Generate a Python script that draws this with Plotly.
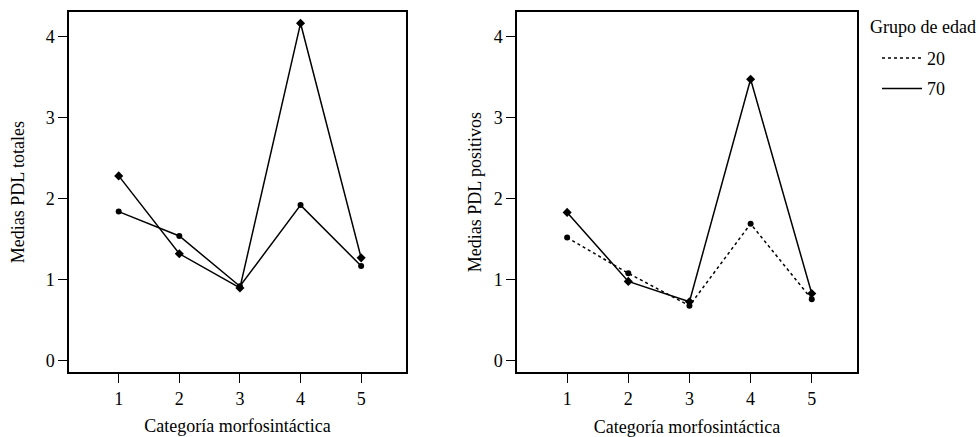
import plotly.graph_objects as go

categories = [1, 2, 3, 4, 5]
tick_labels = ["1", "2", "3", "4", "5"]
y_ticks = [0, 1, 2, 3, 4]

totales_20 = [1.84, 1.54, 0.92, 1.92, 1.17]
totales_70 = [2.28, 1.32, 0.90, 4.16, 1.27]
positivos_20 = [1.52, 1.08, 0.68, 1.69, 0.76]
positivos_70 = [1.83, 0.98, 0.73, 3.47, 0.83]

group_names = ["20", "70"]
legend_title = "Grupo de edad"

FONT = "Liberation Serif"
W, H = 980, 437

fig = go.Figure()

# left panel
fig.add_trace(go.Scatter(x=categories, y=totales_20, mode="lines+markers",
                         line=dict(color="black", width=1.5),
                         marker=dict(symbol="circle", size=6, color="black"),
                         showlegend=False, xaxis="x", yaxis="y"))
fig.add_trace(go.Scatter(x=categories, y=totales_70, mode="lines+markers",
                         line=dict(color="black", width=1.5),
                         marker=dict(symbol="diamond", size=7, color="black"),
                         showlegend=False, xaxis="x", yaxis="y"))
# right panel
fig.add_trace(go.Scatter(x=categories, y=positivos_20, mode="lines+markers",
                         line=dict(color="black", width=1.5, dash="dot"),
                         marker=dict(symbol="circle", size=6, color="black"),
                         showlegend=False, xaxis="x2", yaxis="y2"))
fig.add_trace(go.Scatter(x=categories, y=positivos_70, mode="lines+markers",
                         line=dict(color="black", width=1.5),
                         marker=dict(symbol="diamond", size=7, color="black"),
                         showlegend=False, xaxis="x2", yaxis="y2"))
# legend entries
fig.add_trace(go.Scatter(x=[None], y=[None], mode="lines", name=group_names[0],
                         line=dict(color="black", width=1.5, dash="dot"),
                         legendgroup="a", xaxis="x2", yaxis="y2"))
fig.add_trace(go.Scatter(x=[None], y=[None], mode="lines", name=group_names[1],
                         line=dict(color="black", width=1.5),
                         legendgroup="b", xaxis="x2", yaxis="y2"))

xcommon = dict(range=[0.18, 5.74], tickvals=categories, ticktext=tick_labels,
               ticks="outside", ticklen=9, tickwidth=1.2, tickcolor="black",
               showline=True, linecolor="black", linewidth=1.5, mirror=True,
               showgrid=False, zeroline=False,
               tickfont=dict(family=FONT, size=18, color="black"))
ycommon = dict(range=[-0.14, 4.3], tickvals=y_ticks,
               ticks="outside", ticklen=9, tickwidth=1.2, tickcolor="black",
               showline=True, linecolor="black", linewidth=1.5, mirror=True,
               showgrid=False, zeroline=False,
               tickfont=dict(family=FONT, size=18, color="black"))

fig.update_layout(
    width=W, height=H,
    margin=dict(l=0, r=0, t=0, b=0),
    paper_bgcolor="white", plot_bgcolor="white",
    font=dict(family=FONT, color="black"),
    xaxis=dict(xcommon, domain=[69 / W, 406 / W], anchor="y",
               title=dict(text="Categoría morfosintáctica", standoff=12,
                          font=dict(family=FONT, size=18))),
    yaxis=dict(ycommon, domain=[1 - 374 / H, 1 - 12 / H], anchor="x",
               title=dict(text="Medias PDL totales", standoff=16,
                          font=dict(family=FONT, size=18))),
    xaxis2=dict(xcommon, domain=[517 / W, 857 / W], anchor="y2",
                title=dict(text="Categoría morfosintáctica", standoff=16,
                           font=dict(family=FONT, size=18))),
    yaxis2=dict(ycommon, domain=[1 - 374 / H, 1 - 12 / H], anchor="x2",
                title=dict(text="Medias PDL positivos", standoff=7,
                           font=dict(family=FONT, size=18))),
    legend=dict(x=877 / W, y=1 - 40 / H, xanchor="left", yanchor="top",
                font=dict(family=FONT, size=18, color="black"),
                traceorder="grouped", tracegroupgap=4, itemwidth=40,
                bgcolor="rgba(0,0,0,0)", borderwidth=0),
    annotations=[dict(text=legend_title, xref="paper", yref="paper",
                      x=868 / W, y=1 - 27 / H, xanchor="left", yanchor="middle",
                      showarrow=False, font=dict(family=FONT, size=18, color="black"))],
)

fig.write_html("out.html", config={"displayModeBar": False},
               post_script="document.body.style.margin='0';")
